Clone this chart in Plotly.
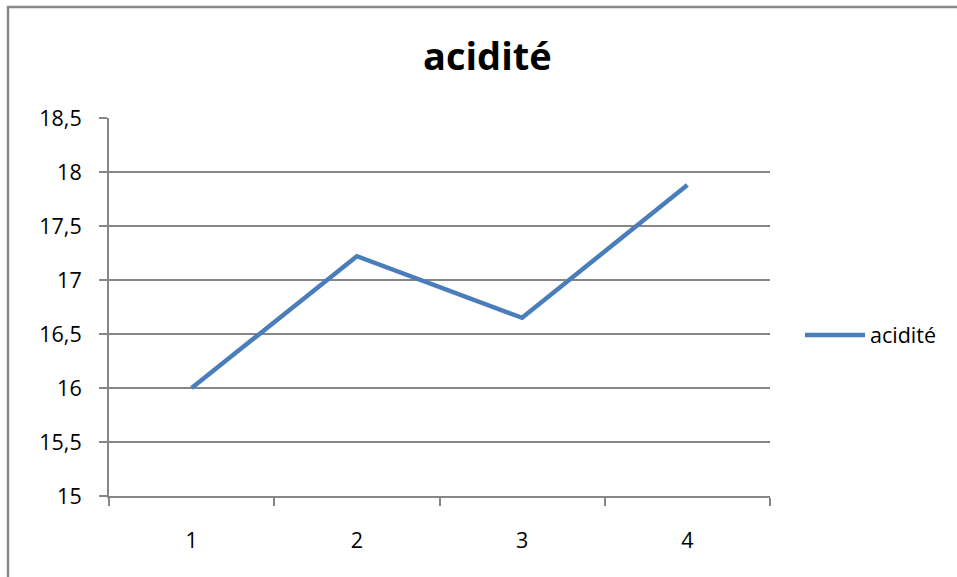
import plotly.graph_objects as go

# Mesures d'acidité par échantillon
categories = ["1", "2", "3", "4"]
acidite = [16.0, 17.22, 16.65, 17.88]
series_name = "acidité"
y_ticks = [15, 15.5, 16, 16.5, 17, 17.5, 18, 18.5]

W, H = 957, 577
L, R, T, B = 109, 770, 118, 496
pw, ph = R - L, B - T

def px_x(x):
    return (x - L) / pw

def px_y(y):
    return (B - y) / ph

fig = go.Figure()
fig.add_trace(go.Scatter(
    x=categories, y=acidite, mode="lines", name=series_name,
    line=dict(color="#4A7EBB", width=4.5),
))

font = "'Open Sans', Lato, sans-serif"
grid = "#868686"

fig.update_layout(
    width=W, height=H,
    margin=dict(l=L, r=W - R, t=T, b=H - B, pad=0),
    paper_bgcolor="white", plot_bgcolor="white",
    separators=", ",
    font=dict(family=font, size=21.5, color="black"),
    showlegend=True,
    legend=dict(
        x=px_x(800), y=px_y(335), xanchor="left", yanchor="middle",
        font=dict(size=21.5), itemwidth=60, bgcolor="rgba(0,0,0,0)",
    ),
    xaxis=dict(
        type="category", tickson="boundaries", ticks="outside", ticklen=8,
        tickcolor=grid, tickwidth=2, showgrid=False, showline=True,
        linecolor=grid, linewidth=2, ticklabelstandoff=24,
        range=[-0.5, 3.5], zeroline=False,
    ),
    yaxis=dict(
        range=[15, 18.5], tickvals=y_ticks, ticks="outside", ticklen=8,
        tickcolor=grid, tickwidth=2, showgrid=True, gridcolor=grid,
        gridwidth=1.5, showline=True, linecolor=grid, linewidth=2,
        ticklabelstandoff=13, zeroline=False,
    ),
    annotations=[dict(
        text="<b>acidité</b>", xref="paper", yref="paper",
        x=px_x(487), y=px_y(55), xanchor="center", yanchor="middle",
        showarrow=False, font=dict(size=38, family=font, color="black"),
    )],
    shapes=[dict(
        type="rect", xref="paper", yref="paper",
        x0=px_x(8), y0=px_y(600), x1=px_x(990), y1=px_y(7),
        line=dict(color="#888888", width=2.5), fillcolor="rgba(0,0,0,0)",
        layer="below",
    )],
)

fig.write_html("out.html")
